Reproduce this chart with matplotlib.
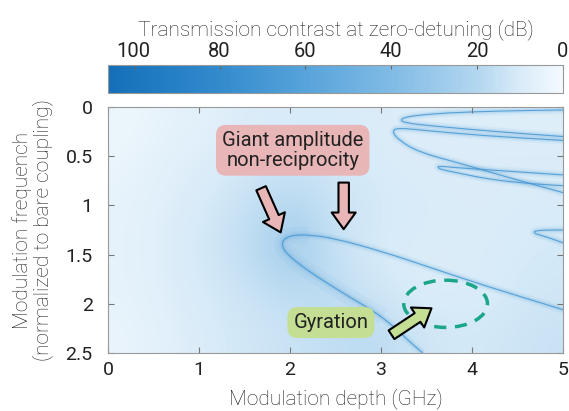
import numpy as np
import matplotlib
matplotlib.use('Agg')
import matplotlib.pyplot as plt
from matplotlib.colors import LinearSegmentedColormap, Normalize
from matplotlib.patches import Ellipse, PathPatch
from matplotlib.path import Path

plt.rcParams['font.family'] = ['Roboto', 'DejaVu Sans']

# coarse background level (dB), rows = modulation frequency, cols = modulation depth
bg_depth = [0, 0.5, 1, 1.5, 2, 2.5, 3, 3.5, 4, 4.5, 5]
bg_freq = [0, 0.5, 1.0, 1.5, 2.0, 2.5]
bg_db = [
    [3, 5, 7, 9, 10, 10, 9, 8, 8, 8, 8],
    [4, 7, 9, 12, 14, 12, 10, 9, 9, 9, 9],
    [5, 8, 11, 16, 21, 14, 11, 10, 9, 9, 10],
    [5, 9, 12, 18, 26, 14, 10, 9, 9, 10, 11],
    [5, 8, 11, 14, 18, 18, 12, 9, 9, 10, 12],
    [4, 7, 10, 12, 14, 16, 18, 13, 11, 12, 14],
]

main_x = [3.46, 3.38, 3.02, 2.65, 2.29, 2.12, 2.0, 1.93, 1.91, 1.95, 2.05, 2.2, 2.47, 3.02, 3.57, 4.12, 5.0]
main_y = [2.5, 2.44, 2.13, 1.93, 1.72, 1.61, 1.52, 1.45, 1.38, 1.33, 1.30, 1.30, 1.33, 1.47, 1.64, 1.81, 2.06]
r1_x = [5.0, 4.26, 3.53, 3.26, 3.21, 3.28, 3.45, 3.71, 4.3, 5.0]
r1_y = [0.30, 0.25, 0.19, 0.16, 0.13, 0.10, 0.08, 0.06, 0.04, 0.03]
r2_x = [5.0, 4.1, 3.5, 3.18, 3.12, 3.2, 3.42, 3.86, 4.3, 5.0]
r2_y = [0.34, 0.29, 0.24, 0.21, 0.25, 0.34, 0.46, 0.57, 0.69, 0.87]
r3_x = [5.0, 4.2, 3.8, 3.64, 3.62, 3.68, 3.85, 4.1, 4.5, 5.0]
r3_y = [0.69, 0.64, 0.615, 0.6, 0.615, 0.64, 0.67, 0.72, 0.77, 0.80]
r4_x = [5.0, 4.8, 4.69, 4.68, 4.74, 4.85, 5.0]
r4_y = [1.25, 1.25, 1.26, 1.28, 1.30, 1.33, 1.38]

cbar_ticks = [100, 80, 60, 40, 20, 0]
x_ticks = [0, 1, 2, 3, 4, 5]
y_ticks = [0, 0.5, 1, 1.5, 2, 2.5]
y_ticklabels = ['0', '0.5', '1', '1.5', '2', '2.5']

cmap = LinearSegmentedColormap.from_list('contrast', [
    (0.0, '#f4fafe'), (10 / 106, '#d8ebf8'), (20 / 106, '#b2d6ef'),
    (40 / 106, '#80bbe5'), (60 / 106, '#57a3da'), (80 / 106, '#338bcd'),
    (100 / 106, '#1b76be'), (1.0, '#146fb8')])
norm = Normalize(vmin=0, vmax=106)


def ridge_path(xs, ys):
    # quadratic bezier through midpoints, traced points act as control points
    pts = list(zip(xs, ys))
    verts = [pts[0], ((pts[0][0] + pts[1][0]) / 2, (pts[0][1] + pts[1][1]) / 2)]
    codes = [Path.MOVETO, Path.LINETO]
    for i in range(1, len(pts) - 1):
        mid = ((pts[i][0] + pts[i + 1][0]) / 2, (pts[i][1] + pts[i + 1][1]) / 2)
        verts += [pts[i], mid]
        codes += [Path.CURVE3, Path.CURVE3]
    verts.append(pts[-1])
    codes.append(Path.LINETO)
    return Path(verts, codes)


fig = plt.figure(figsize=(5.69, 4.11), dpi=100)
ax = fig.add_axes([108 / 569, 1 - 353 / 411, 455 / 569, 246 / 411])
cax = fig.add_axes([108 / 569, 1 - 93 / 411, 455 / 569, 28 / 411])

im = ax.imshow(np.array(bg_db), cmap=cmap, norm=norm, aspect='auto', interpolation='bicubic',
               extent=(bg_depth[0], bg_depth[-1], bg_freq[-1], bg_freq[0]), origin='upper')

line_col = cmap(norm(70))
for xs, ys in [(main_x, main_y), (r1_x, r1_y), (r2_x, r2_y), (r3_x, r3_y), (r4_x, r4_y)]:
    path = ridge_path(xs, ys)
    for lw, a in [(6, 0.07), (3, 0.15), (0.8, 0.85)]:
        ax.add_patch(PathPatch(path, fill=False, ec=line_col, lw=lw, alpha=a, capstyle='butt',
                               joinstyle='round'))
# broad halo around the main ridge
ax.add_patch(PathPatch(ridge_path(main_x[2:12], main_y[2:12]), fill=False, ec=line_col, lw=12,
                       alpha=0.06, joinstyle='round'))

ax.set_xlim(0, 5)
ax.set_ylim(2.5, 0)
ax.set_xticks(x_ticks)
ax.set_yticks(y_ticks)
ax.set_yticklabels(y_ticklabels)
ax.tick_params(direction='in', top=True, right=True, length=4, color='#777777',
               labelsize=14, labelcolor='#222222')
ax.tick_params(axis='x', pad=6)
ax.tick_params(axis='y', pad=11)
for sp in ax.spines.values():
    sp.set_color('#999999')
    sp.set_linewidth(0.8)
ax.set_xlabel('Modulation depth (GHz)', fontsize=15, color='#222222', fontweight='light', labelpad=6)
ax.set_ylabel('Modulation frequench\n(normalized to bare coupling)', fontsize=15, color='#222222',
              fontweight='light', labelpad=9, linespacing=1.0)

# colorbar
cb = fig.colorbar(im, cax=cax, orientation='horizontal')
cax.invert_xaxis()
cb.set_ticks(cbar_ticks)
cb.set_ticklabels([str(t) for t in cbar_ticks])
cax.xaxis.set_ticks_position('top')
cax.xaxis.set_label_position('top')
cax.tick_params(direction='in', length=3, color='#666666', labelsize=14.5, labelcolor='#222222', pad=3)
cb.outline.set_edgecolor('#999999')
cb.outline.set_linewidth(0.8)
cb.set_label('Transmission contrast at zero-detuning (dB)', fontsize=15, color='#222222',
             fontweight='light', labelpad=5)

# annotations
pink = '#e9b6b8'
ax.text(2.03, 0.44, 'Giant amplitude\nnon-reciprocity', ha='center', va='center', fontsize=14.5,
        color='#222222', linespacing=1.05,
        bbox=dict(boxstyle='round,pad=0.3,rounding_size=0.5', fc=pink, ec='none'))
arrow_style = 'simple,head_width=1.15,head_length=0.8,tail_width=0.5'
ax.annotate('', xy=(1.91, 1.30), xytext=(1.67, 0.80),
            arrowprops=dict(arrowstyle=arrow_style, mutation_scale=15, fc=pink, ec='black', lw=1.5))
ax.annotate('', xy=(2.59, 1.27), xytext=(2.59, 0.74),
            arrowprops=dict(arrowstyle=arrow_style, mutation_scale=15, fc=pink, ec='black', lw=1.5))

green = '#c4de94'
ax.text(2.45, 2.19, 'Gyration', ha='center', va='center', fontsize=14.5, color='#222222',
        bbox=dict(boxstyle='round,pad=0.3,rounding_size=0.5', fc=green, ec='none'))
ax.annotate('', xy=(3.58, 2.03), xytext=(3.09, 2.33),
            arrowprops=dict(arrowstyle=arrow_style, mutation_scale=15, fc=green, ec='black', lw=1.5))

ax.add_patch(Ellipse((3.71, 2.0), 0.92, 0.48, fill=False, ec='#1ba689', lw=2.5, ls=(0, (3.5, 2.5))))

fig.savefig('out.png', dpi=100)
